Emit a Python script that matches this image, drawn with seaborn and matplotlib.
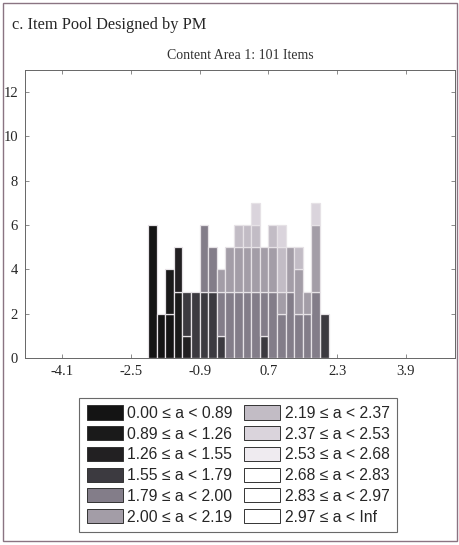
import numpy as np
import pandas as pd
import seaborn as sns
import matplotlib.pyplot as plt
from matplotlib.patches import Patch, Rectangle

# b-parameter bins (centers), width 0.2
b_centers = [-2.0, -1.8, -1.6, -1.4, -1.2, -1.0, -0.8, -0.6, -0.4, -0.2, 0.0,
             0.2, 0.4, 0.6, 0.8, 1.0, 1.2, 1.4, 1.6, 1.8, 2.0]

a_labels = ['0.00 \u2264 a < 0.89', '0.89 \u2264 a < 1.26', '1.26 \u2264 a < 1.55',
            '1.55 \u2264 a < 1.79', '1.79 \u2264 a < 2.00', '2.00 \u2264 a < 2.19',
            '2.19 \u2264 a < 2.37', '2.37 \u2264 a < 2.53', '2.53 \u2264 a < 2.68',
            '2.68 \u2264 a < 2.83', '2.83 \u2264 a < 2.97', '2.97 \u2264 a < Inf']

# item counts per a-range in each b bin
cnt_a0 = [6, 2, 2, 0, 0, 0, 0, 0, 0, 0, 0, 0, 0, 0, 0, 0, 0, 0, 0, 0, 0]
cnt_a1 = [0, 0, 2, 3, 0, 0, 0, 0, 0, 0, 0, 0, 0, 0, 0, 0, 0, 0, 0, 0, 0]
cnt_a2 = [0, 0, 0, 2, 1, 0, 0, 0, 0, 0, 0, 0, 0, 0, 0, 0, 0, 0, 0, 0, 0]
cnt_a3 = [0, 0, 0, 0, 2, 3, 3, 3, 1, 0, 0, 0, 0, 1, 0, 0, 0, 0, 0, 0, 2]
cnt_a4 = [0, 0, 0, 0, 0, 0, 3, 2, 2, 3, 3, 3, 3, 2, 3, 2, 3, 2, 2, 3, 0]
cnt_a5 = [0, 0, 0, 0, 0, 0, 0, 0, 1, 2, 2, 2, 2, 2, 2, 1, 2, 2, 1, 3, 0]
cnt_a6 = [0, 0, 0, 0, 0, 0, 0, 0, 0, 0, 1, 1, 1, 0, 1, 2, 0, 1, 0, 0, 0]
cnt_a7 = [0, 0, 0, 0, 0, 0, 0, 0, 0, 0, 0, 0, 1, 0, 0, 1, 0, 0, 0, 1, 0]
cnt_a8 = [0] * 21
cnt_a9 = [0] * 21
cnt_a10 = [0] * 21
cnt_a11 = [0] * 21

gray_colors = ['#141414', '#1a1a1a', '#222022', '#3c3a40', '#837d89', '#a39da7',
               '#c2bcc5', '#dad4dc', '#efebf0', '#ffffff', '#ffffff', '#ffffff']

xtick_vals = [-4.1, -2.5, -0.9, 0.7, 2.3, 3.9]
xtick_labels = ['-4.1', '-2.5', '-0.9', '0.7', '2.3', '3.9']
ytick_vals = [0, 2, 4, 6, 8, 10, 12]

all_counts = [cnt_a0, cnt_a1, cnt_a2, cnt_a3, cnt_a4, cnt_a5,
              cnt_a6, cnt_a7, cnt_a8, cnt_a9, cnt_a10, cnt_a11]
rows = []
for lab, cnts in zip(a_labels, all_counts):
    for b, c in zip(b_centers, cnts):
        rows.append({'b': b, 'a_range': lab, 'n': float(c)})
df = pd.DataFrame(rows)

sns.set_style('ticks')
plt.rcParams['font.family'] = ['Liberation Serif', 'DejaVu Serif']

fig = plt.figure(figsize=(4.6, 5.45), dpi=100)
ax = fig.add_axes([25 / 460, 1 - 358 / 545, 430 / 460, 288 / 545])

edges = [round(-2.1 + 0.2 * i, 2) for i in range(22)]
# seaborn stacks the first hue level on top, so feed the order reversed
sns.histplot(data=df, x='b', weights='n', hue='a_range', hue_order=a_labels[::-1],
             palette=dict(zip(a_labels, gray_colors)), multiple='stack', bins=edges,
             edgecolor='#e6e2e6', linewidth=0.9, alpha=1, legend=False, ax=ax)
# empty segments would leave a light edge line on top of the bars
for p in ax.patches:
    if p.get_height() == 0:
        p.set_visible(False)

ax.set_xlim(-4.96, 5.04)
ax.set_ylim(0, 13)
ax.set_xticks(xtick_vals)
ax.set_xticklabels(xtick_labels)
ax.set_yticks(ytick_vals)
ax.set_xlabel('')
ax.set_ylabel('')
ax.tick_params(direction='in', length=3, width=0.6, color='#777777',
               labelsize=10.5, top=True, right=True, pad=5)
for s in ax.spines.values():
    s.set_visible(True)
    s.set_linewidth(0.7)
    s.set_color('#666666')

ax.set_title('Content Area 1: 101 Items', fontsize=10, color='#333333', pad=8)
fig.text(12 / 460, 1 - 25 / 545, 'c. Item Pool Designed by PM', fontsize=11.8,
         ha='left', va='center')

handles = [Patch(facecolor=c, edgecolor='#333333', linewidth=0.7) for c in gray_colors]
leg = fig.legend(handles, a_labels, loc='center', ncol=2,
                 bbox_to_anchor=(238 / 460, 1 - 465 / 545),
                 prop={'family': 'Liberation Sans', 'size': 11.3},
                 handlelength=2.3, handleheight=1.0, handletextpad=0.3,
                 labelspacing=0.34, columnspacing=0.7, borderpad=0.45,
                 frameon=True, fancybox=False, edgecolor='#444444')
leg.get_frame().set_linewidth(0.8)

fig.patches.append(Rectangle((3 / 460, 4 / 545), 454 / 460, 538 / 545,
                             transform=fig.transFigure, fill=False,
                             edgecolor='#8a7482', linewidth=1))

fig.savefig('out.png', dpi=100)
